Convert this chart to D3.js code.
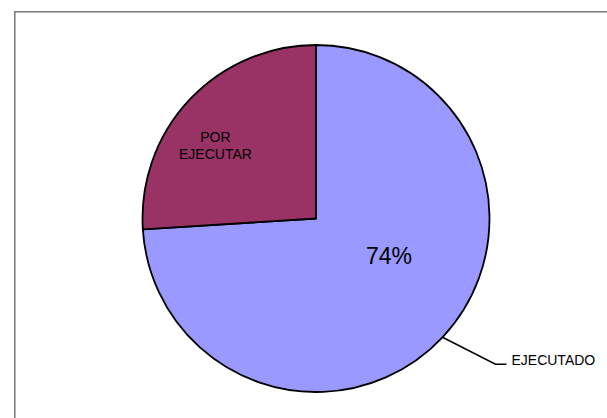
<!DOCTYPE html>
<html>
<head>
<meta charset="utf-8">
<script src="https://cdn.jsdelivr.net/npm/d3@7"></script>
<style>
  html, body { margin: 0; padding: 0; background: #fff; }
  svg { display: block; font-family: "Liberation Sans", Arial, sans-serif; }
</style>
</head>
<body>
<svg id="chart" width="607" height="418"></svg>
<script>
// Chart data
const categories = ['EJECUTADO', 'POR EJECUTAR']
const values = [74, 26]
const colors = ['#9999FF', '#993366']

const svg = d3.select('#chart')
const cx = 316
const cy = 218.5
const radius = 173.5

// Outer frame of the chart area
svg.append('rect')
  .attr('x', 14.8)
  .attr('y', 11.8)
  .attr('width', 620)
  .attr('height', 430)
  .attr('fill', 'none')
  .attr('stroke', '#777')
  .attr('stroke-width', 1.5)

const g = svg.append('g')
  .attr('transform', `translate(${cx},${cy})`)

const pie = d3.pie().sort(null).value((d) => d)
const arcs = pie(values)

const arc = d3.arc().innerRadius(0).outerRadius(radius)

// Slices
g.selectAll('.slice')
  .data(arcs)
  .enter()
  .append('path')
  .attr('class', 'slice')
  .attr('d', arc)
  .attr('fill', (d, i) => colors[i])
  .attr('stroke', '#000')
  .attr('stroke-width', 1.8)
  .attr('stroke-linejoin', 'round')

/**
 * Returns the [x, y] point at the given angle (radians, clockwise from top)
 * and distance from the center.
 */
function polar (angle, r) {
  return d3.arc().innerRadius(r).outerRadius(r)
    .centroid({ startAngle: angle, endAngle: angle })
}

const deg = Math.PI / 180
const midAngle = (d) => (d.startAngle + d.endAngle) / 2

// Percentage label inside the large slice
const pctPos = polar(117 * deg, 82)
g.append('text')
  .attr('x', pctPos[0])
  .attr('y', pctPos[1])
  .attr('dy', '0.35em')
  .attr('text-anchor', 'middle')
  .style('font-size', '23px')
  .text(Math.round(values[0]) + '%')

// Category label inside the small slice
const porPos = polar(305.8 * deg, 124)
const porWords = ['POR', 'EJECUTAR']
g.append('text')
  .attr('text-anchor', 'middle')
  .style('font-size', '14px')
  .selectAll('tspan')
  .data(porWords)
  .enter()
  .append('tspan')
  .attr('x', porPos[0])
  .attr('y', (d, i) => porPos[1] - 3.5 + i * 17)
  .text((d) => d)

// Leader line and outside label for the large slice
const edge = polar(midAngle(arcs[0]), radius)
const elbow = [edge[0] + 53, edge[1] + 27]
const tail = [elbow[0] + 11, elbow[1]]
g.append('polyline')
  .attr('points', [edge, elbow, tail].map((p) => p.join(',')).join(' '))
  .attr('fill', 'none')
  .attr('stroke', '#000')
  .attr('stroke-width', 1.5)

g.append('text')
  .attr('x', tail[0] + 5)
  .attr('y', tail[1] + 1)
  .style('font-size', '14px')
  .text(categories[0])
</script>
</body>
</html>
